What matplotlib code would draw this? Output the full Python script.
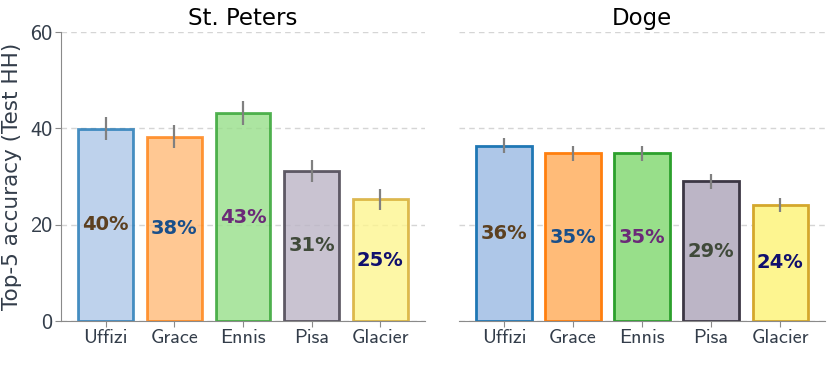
import os
import matplotlib
matplotlib.use("Agg")
import matplotlib.pyplot as plt
from matplotlib import font_manager as fm
import numpy as np

# register Computer Modern Sans shipped with matplotlib
_cm = os.path.join(matplotlib.get_data_path(), "fonts", "ttf", "cmss10.ttf")
fm.fontManager.addfont(_cm)
CMSS = fm.FontProperties(fname=_cm).get_name()

categories = ["Uffizi", "Grace", "Ennis", "Pisa", "Glacier"]
panels = ["St. Peters", "Doge"]
stpeters_vals = [39.9, 38.3, 43.1, 31.2, 25.3]
stpeters_err = [2.4, 2.3, 2.5, 2.3, 2.2]
doge_vals = [36.4, 34.8, 34.8, 29.0, 24.1]
doge_err = [1.6, 1.6, 1.6, 1.6, 1.45]
yticks = [0, 20, 40, 60]

fill_colors = ["#aec7e8", "#ffbb78", "#98df8a", "#bcb5c6", "#fdf590"]
edge_colors = ["#1f77b4", "#ff7f0e", "#2ca02c", "#3c3744", "#d4a72c"]
text_colors = ["#5c4020", "#1a4f8a", "#6b2a78", "#404a3a", "#10106e"]
alphas = [0.8, 1.0]

fig = plt.figure(figsize=(8.30, 3.91), dpi=100)
ax1 = fig.add_axes([0.0735, 0.179, 0.4385, 0.739])
ax2 = fig.add_axes([0.553, 0.179, 0.441, 0.739], sharey=ax1)

tick_col = "#333d4a"
for ax, title, vals, errs, a in zip([ax1, ax2], panels,
                                    [stpeters_vals, doge_vals],
                                    [stpeters_err, doge_err], alphas):
    x = np.arange(len(categories))
    ax.bar(x, vals, width=0.8, color=fill_colors, edgecolor=edge_colors,
           linewidth=2.0, alpha=a, zorder=2)
    ax.errorbar(x, vals, yerr=errs, fmt="none", ecolor="#808080",
                elinewidth=1.6, capsize=0, zorder=3)
    for xi, v, tc in zip(x, vals, text_colors):
        ax.text(xi, v / 2, f"{round(v):d}%", ha="center", va="center",
                fontsize=14, fontweight="bold", color=tc,
                family="DejaVu Sans", zorder=4)
    ax.set_xlim(-0.65, 4.65)
    ax.set_ylim(0, 60)
    ax.set_yticks(yticks)
    ax.set_xticks(x)
    ax.set_xticklabels(categories, fontsize=14.5, family=CMSS, color=tick_col)
    ax.yaxis.grid(True, linestyle=(0, (4, 3)), color="#d5d5d5", linewidth=1.0, zorder=0)
    ax.set_axisbelow(True)
    ax.spines["top"].set_visible(False)
    ax.spines["right"].set_visible(False)
    ax.spines["bottom"].set_color("#8a8a8a")
    ax.spines["left"].set_color("#8a8a8a")
    ax.tick_params(axis="x", length=4, color="#8a8a8a", pad=2)
    ax.tick_params(axis="y", length=4, color="#8a8a8a", pad=2)
    ax.set_title(title, fontsize=16.5, color="black", pad=5, family="DejaVu Sans")

for lab in ax1.get_yticklabels():
    lab.set_fontfamily(CMSS)
    lab.set_fontsize(16)
    lab.set_color(tick_col)
ax1.set_ylabel("Top-5 accuracy (Test HH)", fontsize=15.5, color=tick_col, labelpad=6)

ax2.spines["left"].set_visible(False)
ax2.tick_params(axis="y", left=False, labelleft=False)

fig.savefig("out.png", dpi=100)
